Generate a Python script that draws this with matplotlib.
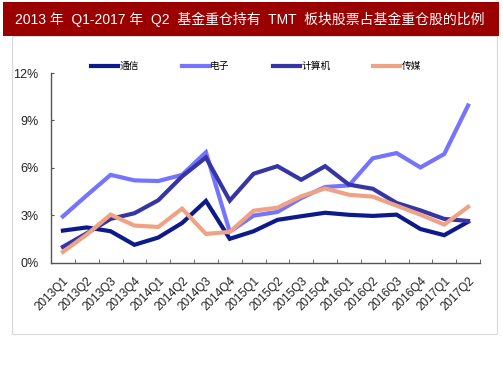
import matplotlib.pyplot as plt
from matplotlib.patches import Rectangle
from matplotlib.ticker import FuncFormatter

plt.rcParams['font.family'] = ['Liberation Sans', 'Noto Sans CJK SC']

quarters = ["2013Q1", "2013Q2", "2013Q3", "2013Q4", "2014Q1", "2014Q2",
            "2014Q3", "2014Q4", "2015Q1", "2015Q2", "2015Q3", "2015Q4",
            "2016Q1", "2016Q2", "2016Q3", "2016Q4", "2017Q1", "2017Q2"]

# % of heavy fund holdings
tongxin = [2.02, 2.22, 1.98, 1.12, 1.58, 2.5, 3.9, 1.5, 1.98, 2.7,
           2.93, 3.15, 3.02, 2.95, 3.03, 2.12, 1.73, 2.58]
dianzi = [2.92, 4.25, 5.55, 5.2, 5.16, 5.55, 6.98, 1.95, 2.97, 3.2,
          4.08, 4.78, 4.88, 6.6, 6.93, 6.02, 6.87, 9.94]
jisuanji = [0.99, 1.85, 2.76, 3.12, 3.94, 5.45, 6.65, 3.92, 5.62, 6.1,
            5.24, 6.1, 4.93, 4.67, 3.77, 3.3, 2.76, 2.63]
chuanmei = [0.67, 1.77, 3.03, 2.34, 2.25, 3.41, 1.81, 1.94, 3.28, 3.47,
            4.19, 4.69, 4.29, 4.17, 3.6, 3.03, 2.4, 3.52]

series = [("通信", tongxin, "#0c1a8c"),
          ("电子", dianzi, "#7474ff"),
          ("计算机", jisuanji, "#3535a6"),
          ("传媒", chuanmei, "#f0a284")]

fig = plt.figure(figsize=(5.03, 3.78), dpi=100)

# title bar + light frame
fig.patches.append(Rectangle((12 / 503, 1 - 334 / 378), (497 - 12) / 503, (334 - 36) / 378,
                             transform=fig.transFigure, facecolor="none",
                             edgecolor="#d9d9d9", linewidth=0.8, zorder=-1))
fig.patches.append(Rectangle((3 / 503, 1 - 36 / 378), 496 / 503, 34 / 378,
                             transform=fig.transFigure, facecolor="#9b0000",
                             edgecolor="none", zorder=-1))
fig.text(250 / 503, 1 - 19 / 378,
         "2013 年  Q1-2017 年  Q2  基金重仓持有  TMT  板块股票占基金重仓股的比例",
         color="white", fontsize=10, ha="center", va="center",
         family=["Liberation Sans", "Noto Sans CJK SC"])

ax = fig.add_axes([51 / 503, 1 - 262.5 / 378, 429 / 503, 189.5 / 378])
ax.patch.set_alpha(0)
x = list(range(len(quarters)))
for name, vals, col in series:
    ax.plot(x, vals, color=col, lw=3, label=name, solid_joinstyle="miter")

ax.set_xlim(-0.5, len(quarters) - 0.5)
ax.set_ylim(0, 12)
ax.set_yticks([0, 3, 6, 9, 12])
ax.yaxis.set_major_formatter(FuncFormatter(lambda v, p: f"{v:.0f}%"))
ax.set_xticks(x)
ax.set_xticklabels(quarters, rotation=45, ha="right", rotation_mode="anchor")
ax.set_xticks([i - 0.5 for i in range(len(quarters) + 1)], minor=True)
ax.tick_params(axis="x", which="major", length=0, pad=9, labelsize=8.5, colors="#222222")
ax.tick_params(axis="x", which="minor", length=3, color="#555555", direction="in")
ax.tick_params(axis="y", length=2.5, direction="in", color="#555555",
               labelsize=9, pad=9, labelcolor="#222222")
for s in ["top", "right"]:
    ax.spines[s].set_visible(False)
for s in ["left", "bottom"]:
    ax.spines[s].set_color("#555555")
    ax.spines[s].set_linewidth(1)

leg = fig.legend(loc="center", bbox_to_anchor=(256 / 503, 1 - 66 / 378), ncol=4,
                 frameon=False, handlelength=2.8, columnspacing=4.4,
                 handletextpad=0.15, prop={"family": ["Noto Sans CJK SC"], "size": 7})

fig.savefig("out.png", dpi=100)
